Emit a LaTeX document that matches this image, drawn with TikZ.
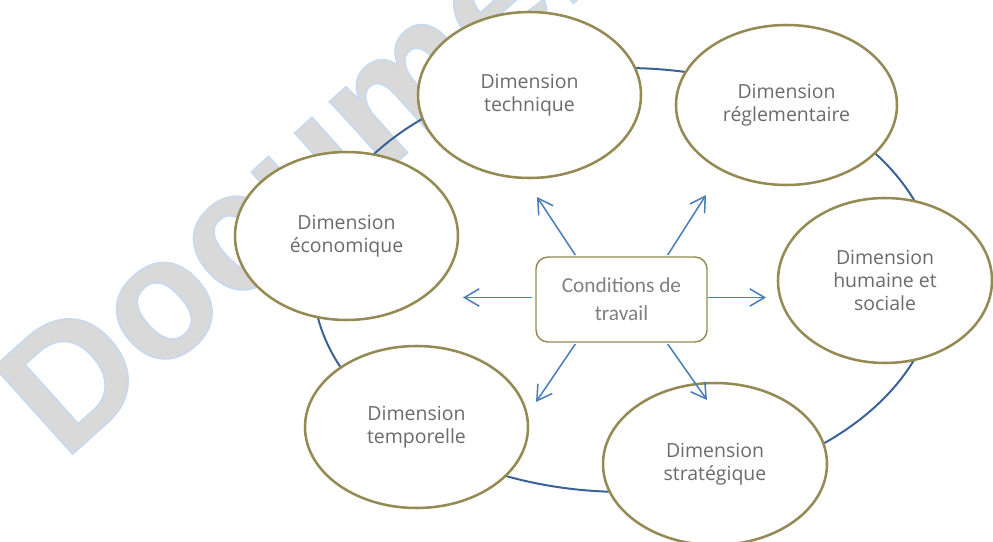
\documentclass[tikz,border=0pt]{standalone}
\usepackage{fontspec}
\setmainfont{Open Sans}
\newfontfamily\calib{Carlito}
\newfontfamily\wmfont{Liberation Sans}
\usetikzlibrary{shapes.geometric,arrows.meta,calc}
\definecolor{ringblue}{HTML}{3B6296}
\definecolor{arrowblue}{HTML}{4A7EBB}
\definecolor{dimolive}{HTML}{948A54}
\definecolor{txtgray}{HTML}{6B6B6B}
\definecolor{boxgray}{HTML}{808080}
\definecolor{wmgray}{HTML}{D9D9D9}
\definecolor{wmblue}{HTML}{C6D9F1}
\begin{document}
\begin{tikzpicture}[x=0.75pt,y=-0.75pt,
  dimnode/.style={ellipse, draw=dimolive, line width=1.9pt, fill=white, align=center,
    inner sep=0pt, text=txtgray, font=\fontsize{14.6}{17.4}\selectfont},
  wmtext/.style={anchor=base west, rotate=42, inner sep=0pt, text=wmgray,
    font=\wmfont\bfseries\fontsize{128}{128}\selectfont},
  arr/.style={arrowblue, line width=1.15pt, -{Straight Barb[length=11pt,width=13pt]}},
  condbox/.style={draw=dimolive, line width=1.1pt, rounded corners=9pt, fill=white,
    minimum width=128.25pt, minimum height=63.75pt, align=center, inner sep=0pt,
    text=boxgray, font=\calib\fontsize{16}{21}\selectfont},
  ringnode/.style={ellipse, draw=ringblue, line width=1.5pt, inner sep=0pt}
]
\useasboundingbox (0,0) rectangle (993,542);
\clip (0,0) rectangle (993,542);

% watermark (filled and stroked text)
\node[wmtext] (wm) at (64,462)
  {\special{pdf:literal direct 2 Tr 1.2 w 0.776 0.851 0.945 RG}Documents\special{pdf:literal direct 0 Tr}};

% ring
\node[ringnode, minimum width=468pt, minimum height=318pt] (ring) at (625,280) {};

% dimensions
\node[dimnode, minimum width=167.25pt, minimum height=124.5pt] (tech) at (529.5,95) {Dimension\\technique};
\node[dimnode, minimum width=165.75pt, minimum height=120pt] (regl) at (786.5,105) {Dimension\\réglementaire};
\node[dimnode, minimum width=167.25pt, minimum height=126pt] (econ) at (346.5,236) {Dimension\\économique};
\node[dimnode, minimum width=160.5pt, minimum height=123.75pt] (hum) at (885,280.5) {Dimension\\humaine et\\sociale};
\node[dimnode, minimum width=167.25pt, minimum height=121.5pt] (temp) at (416.5,427) {Dimension\\temporelle};
\node[dimnode, minimum width=168pt, minimum height=121.5pt] (strat) at (715,464) {Dimension\\stratégique};

% center
\node[condbox] (box) at (621.5,299.5) {Conditions de\\travail};

\coordinate (eUL) at (537,197);
\coordinate (eUR) at (706,195);
\coordinate (eL) at (463,297.5);
\coordinate (eR) at (766,297.5);
\coordinate (eDL) at (536,402);
\coordinate (eDR) at (707,400);

\draw[arr] ([xshift=30pt,yshift=1pt]box.north west) -- (eUL);
\draw[arr] ([xshift=-30pt,yshift=1pt]box.north east) -- (eUR);
\draw[arr, shorten <=2.5pt] ([yshift=1.5pt]box.west) -- (eL);
\draw[arr] ([yshift=1.5pt]box.east) -- (eR);
\draw[arr] ([xshift=30pt,yshift=-1pt]box.south west) -- (eDL);
\draw[arr] ([xshift=-30pt,yshift=-1pt]box.south east) -- (eDR);
\end{tikzpicture}
\end{document}
